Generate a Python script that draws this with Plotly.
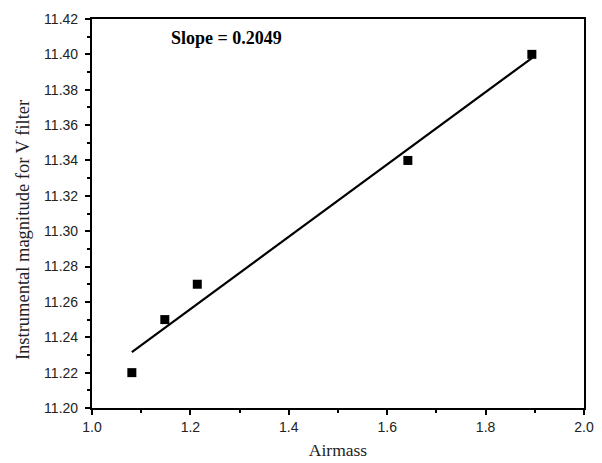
import numpy as np
import plotly.graph_objects as go

airmass = [1.081, 1.148, 1.214, 1.642, 1.894]
magnitude = [11.22, 11.25, 11.27, 11.34, 11.40]
x_ticks = [1.0, 1.2, 1.4, 1.6, 1.8, 2.0]
y_ticks = [11.20, 11.22, 11.24, 11.26, 11.28, 11.30, 11.32, 11.34, 11.36, 11.38, 11.40, 11.42]
slope_label = "Slope = 0.2049"
x_title = "Airmass"
y_title = "Instrumental magnitude for V filter"

coef = np.polyfit(airmass, magnitude, 1)
fit_x = [min(airmass), max(airmass)]
fit_y = [coef[0] * v + coef[1] for v in fit_x]

fig = go.Figure()
fig.add_trace(go.Scatter(x=fit_x, y=fit_y, mode="lines",
                         line=dict(color="black", width=2.2), showlegend=False))
fig.add_trace(go.Scatter(x=airmass, y=magnitude, mode="markers",
                         marker=dict(symbol="square", size=9, color="black"),
                         showlegend=False))

serif = "Liberation Serif, Times New Roman, serif"
sans = "Liberation Sans, Arial, sans-serif"

axis_common = dict(showgrid=False, zeroline=False, showline=True, linecolor="black",
                   linewidth=2.2, mirror=True, ticks="outside", ticklen=5, tickwidth=2,
                   tickcolor="black", automargin=False,
                   tickfont=dict(family=sans, size=14, color="#222"))

fig.update_xaxes(range=[1.0, 2.0], tickvals=x_ticks, ticktext=[f"{v:.1f}" for v in x_ticks],
                 minor=dict(dtick=0.1, ticks="outside", ticklen=3, tickwidth=2, tickcolor="black"),
                 title=dict(text=x_title, font=dict(family=serif, size=17.5, color="#222"),
                            standoff=10),
                 **axis_common)
fig.update_yaxes(range=[11.20, 11.42], tickvals=y_ticks, ticktext=[f"{v:.2f}" for v in y_ticks],
                 minor=dict(dtick=0.01, ticks="outside", ticklen=3, tickwidth=2, tickcolor="black"),
                 ticklabelstandoff=4,
                 **axis_common)

fig.add_annotation(x=-0.140, y=0.4576, xref="paper", yref="paper", text=y_title,
                   showarrow=False, textangle=-90, xanchor="center", yanchor="middle",
                   font=dict(family=serif, size=18.5, color="#222"))

fig.add_annotation(x=0.274, y=0.951, xref="paper", yref="paper", text=slope_label,
                   showarrow=False, xanchor="center", yanchor="middle",
                   font=dict(family=serif, size=18, color="black", weight="bold"))

# page body has an 8px default margin, so the figure is sized to fit inside the window
fig.update_layout(width=594, height=455, margin=dict(l=84, r=18, t=11, b=55),
                  plot_bgcolor="white", paper_bgcolor="white")

fig.write_html("out.html")
